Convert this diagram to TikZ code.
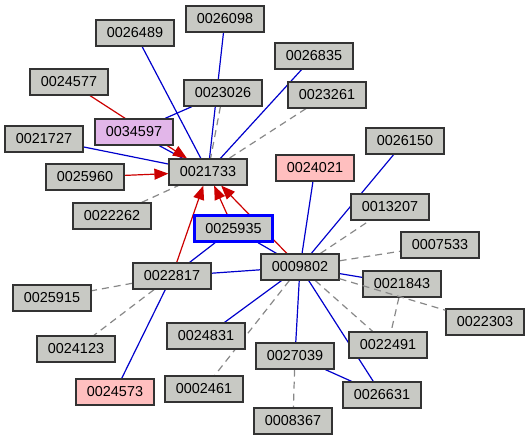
\documentclass[tikz,border=0pt]{standalone}
\usepackage{fontspec}
\setmainfont{Liberation Sans}
\usetikzlibrary{arrows.meta,backgrounds}
\definecolor{nodegray}{RGB}{200,201,196}
\definecolor{nodepink}{RGB}{255,191,191}
\definecolor{nodelilac}{RGB}{226,182,233}
\definecolor{edgeblue}{RGB}{0,0,204}
\definecolor{edgered}{RGB}{204,0,0}
\definecolor{edgegray}{RGB}{136,136,136}
\tikzset{
  nd/.style={draw=black!80, line width=1.2pt, fill=nodegray, minimum width=78pt, minimum height=26pt, inner sep=0pt, font=\fontsize{14.4}{16}\selectfont},
  pinknd/.style={nd, fill=nodepink},
  lilacnd/.style={nd, fill=nodelilac},
  focusnd/.style={nd, draw=blue, line width=2.6pt},
  be/.style={draw=edgeblue, line width=1.2pt},
  re/.style={draw=edgered, line width=1.2pt, -{Triangle[length=14pt,width=11pt]}},
  ge/.style={draw=edgegray, line width=1.2pt, dash pattern=on 7pt off 5pt},
}
\begin{document}
\begin{tikzpicture}[x=1pt,y=-1pt]
\useasboundingbox (0,0) rectangle (530,441);
\node[nd] (n26489) at (135,33) {0026489};
\node[nd] (n26098) at (225,19) {0026098};
\node[nd] (n24577) at (69,82) {0024577};
\node[nd] (n23026) at (223,93) {0023026};
\node[lilacnd] (n34597) at (134,132) {0034597};
\node[nd] (n21727) at (44,139) {0021727};
\node[nd] (n25960) at (85,177) {0025960};
\node[nd] (n21733) at (208,172) {0021733};
\node[nd] (n22262) at (112,216) {0022262};
\node[nd] (n26835) at (314,56) {0026835};
\node[nd] (n23261) at (327,95) {0023261};
\node[nd] (n26150) at (405,141) {0026150};
\node[pinknd] (n24021) at (315,168) {0024021};
\node[nd] (n13207) at (390,207) {0013207};
\node[focusnd] (n25935) at (233.5,228.5) {0025935};
\node[nd] (n22817) at (172,276) {0022817};
\node[nd] (n09802) at (300,267) {0009802};
\node[nd] (n07533) at (440,245) {0007533};
\node[nd] (n21843) at (402,284) {0021843};
\node[nd] (n22303) at (485,322) {0022303};
\node[nd] (n22491) at (388,345) {0022491};
\node[nd] (n27039) at (295,356) {0027039};
\node[nd] (n26631) at (382,395) {0026631};
\node[nd] (n08367) at (293,421) {0008367};
\node[nd] (n25915) at (52,298) {0025915};
\node[nd] (n24123) at (76,349) {0024123};
\node[nd] (n24831) at (206,336) {0024831};
\node[pinknd] (n24573) at (115,392) {0024573};
\node[nd] (n02461) at (204,389) {0002461};
\begin{scope}[on background layer]
  \draw[be] (n26489) -- (n21733);
  \draw[be] (n26098) -- (n21733);
  \draw[be] (n26835) -- (n21733);
  \draw[be] (n21727) -- (n21733);
  \draw[be] (n34597) -- (n21733);
  \draw[be] (n23026) -- (n34597);
  \draw[ge] (n23026) -- (n21733);
  \draw[ge] (n23261) -- (n21733);
  \draw[ge] (n22262) -- (n21733);
  \draw[re] (n24577) -- (n21733);
  \draw[re] (n25960) -- (n21733);
  \draw[re] (n22817) -- (n21733);
  \draw[re] (n25935) -- (n21733);
  \draw[re] (n09802) -- (n21733);
  \draw[be] (n25935) -- (n22817);
  \draw[be] (n25935) -- (n09802);
  \draw[be] (n22817) -- (n09802);
  \draw[ge] (n22817) -- (n25915);
  \draw[ge] (n22817) -- (n24123);
  \draw[be] (n22817) -- (n24573);
  \draw[be] (n09802) -- (n24021);
  \draw[be] (n09802) -- (n26150);
  \draw[ge] (n09802) -- (n13207);
  \draw[ge] (n09802) -- (n07533);
  \draw[be] (n09802) -- (n21843);
  \draw[ge] (n09802) -- (n22491);
  \draw[be] (n09802) -- (n26631);
  \draw[be] (n09802) -- (n27039);
  \draw[be] (n09802) -- (n24831);
  \draw[ge] (n09802) -- (n02461);
  \draw[ge] (n21843) -- (n22491);
  \draw[be] (n27039) -- (n26631);
  \draw[ge] (n27039) -- (n08367);
\end{scope}
\draw[ge] (n09802) -- (n22303);
\end{tikzpicture}
\end{document}
